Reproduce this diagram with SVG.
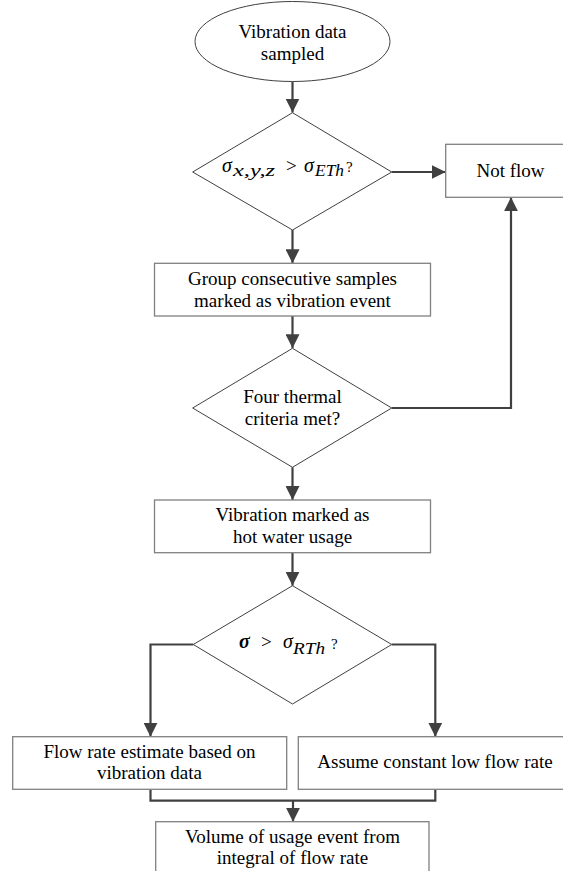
<svg xmlns="http://www.w3.org/2000/svg" width="563" height="871" viewBox="0 0 563 871">
<defs>
<marker id="ah" viewBox="0 0 14 14" refX="14" refY="7" markerWidth="14" markerHeight="14" markerUnits="userSpaceOnUse" orient="auto">
<path d="M0,0 L14,7 L0,14 Z" fill="#404040"/>
</marker>
<style>
.box{fill:#fff;stroke:#808080;stroke-width:1.3}
.dia{fill:#fff;stroke:#404040;stroke-width:1}
text{font-family:'Liberation Serif','Times New Roman',Tinos,'DejaVu Serif',serif;fill:#000}
.t{font-size:19px;text-anchor:middle}
.m{font-size:20px;font-style:italic}
.s{font-size:16px;font-style:italic}
.g{font-size:19px}
.q{font-size:15px}
.c{fill:none;stroke:#404040;stroke-width:2.2}
</style>
</defs>
<rect width="563" height="871" fill="#fff"/>
<g id="connectors">
<path class="c" d="M292.5,81.5 V112.5" marker-end="url(#ah)"/>
<path class="c" d="M391.7,172 H445.7" marker-end="url(#ah)"/>
<path class="c" d="M292.5,230 V263.3" marker-end="url(#ah)"/>
<path class="c" d="M292.5,316 V348.3" marker-end="url(#ah)"/>
<path class="c" d="M391.7,408 H511 V197.3" marker-end="url(#ah)"/>
<path class="c" d="M292.5,467.3 V500" marker-end="url(#ah)"/>
<path class="c" d="M292.5,552.7 V585.7" marker-end="url(#ah)"/>
<path class="c" d="M193.3,644.5 H150.5 V736.7" marker-end="url(#ah)"/>
<path class="c" d="M391.7,644.5 H435.3 V736.7" marker-end="url(#ah)"/>
<path class="c" d="M150.5,789.3 V800.7 H435.3 V789.3"/>
<path class="c" d="M293,800.7 V821.7" marker-end="url(#ah)"/>
</g>
<g id="start">
<ellipse cx="292.5" cy="41.5" rx="97.5" ry="40" class="dia"/>
<text class="t" x="292.5" y="38">Vibration data</text>
<text class="t" x="292.5" y="60">sampled</text>
</g>
<g id="decision1">
<polygon class="dia" points="292.5,112.7 391.7,172 292.5,230 192.7,172"/>
<text class="m" x="222" y="171.5">σ</text>
<text class="s" x="233" y="176" textLength="42" lengthAdjust="spacingAndGlyphs">x,y,z</text>
<text class="g" x="286" y="171.5">&gt;</text>
<text class="m" x="304" y="171.5">σ</text>
<text class="s" x="315" y="176" textLength="29" lengthAdjust="spacingAndGlyphs">ETh</text>
<text class="q" x="346" y="172">?</text>
</g>
<g id="notflow">
<rect class="box" x="445.7" y="144.3" width="131" height="53"/>
<text class="t" x="510.5" y="177">Not flow</text>
</g>
<g id="group">
<rect class="box" x="154.5" y="263.3" width="276" height="52.7"/>
<text class="t" x="292.5" y="285">Group consecutive samples</text>
<text class="t" x="292.5" y="306.7">marked as vibration event</text>
</g>
<g id="decision2">
<polygon class="dia" points="292.5,348.3 391.7,408 292.5,467.3 192.7,408"/>
<text class="t" x="292.5" y="403">Four thermal</text>
<text class="t" x="292.5" y="425">criteria met?</text>
</g>
<g id="hotwater">
<rect class="box" x="154.5" y="500" width="276" height="52.7"/>
<text class="t" x="292.5" y="520.7">Vibration marked as</text>
<text class="t" x="292.5" y="543">hot water usage</text>
</g>
<g id="decision3">
<polygon class="dia" points="292.5,585.7 391.7,644.5 292.5,704 193.3,644.5"/>
<text class="m" x="239" y="648" style="font-weight:bold">σ</text>
<text class="g" x="261" y="648">&gt;</text>
<text class="m" x="283" y="648">σ</text>
<text class="s" x="293" y="654" textLength="32" lengthAdjust="spacingAndGlyphs">RTh</text>
<text class="q" x="331" y="649">?</text>
</g>
<g id="flowrate">
<rect class="box" x="12.7" y="736.7" width="274" height="52.6"/>
<text class="t" x="149.5" y="758.3">Flow rate estimate based on</text>
<text class="t" x="149.5" y="779.3">vibration data</text>
</g>
<g id="lowflow">
<rect class="box" x="298.3" y="736.7" width="274" height="52.6"/>
<text class="t" x="435" y="768.3">Assume constant low flow rate</text>
</g>
<g id="volume">
<rect class="box" x="155.7" y="821.7" width="273.3" height="80"/>
<text class="t" x="292.5" y="843.3">Volume of usage event from</text>
<text class="t" x="292.5" y="864">integral of flow rate</text>
</g>
</svg>
